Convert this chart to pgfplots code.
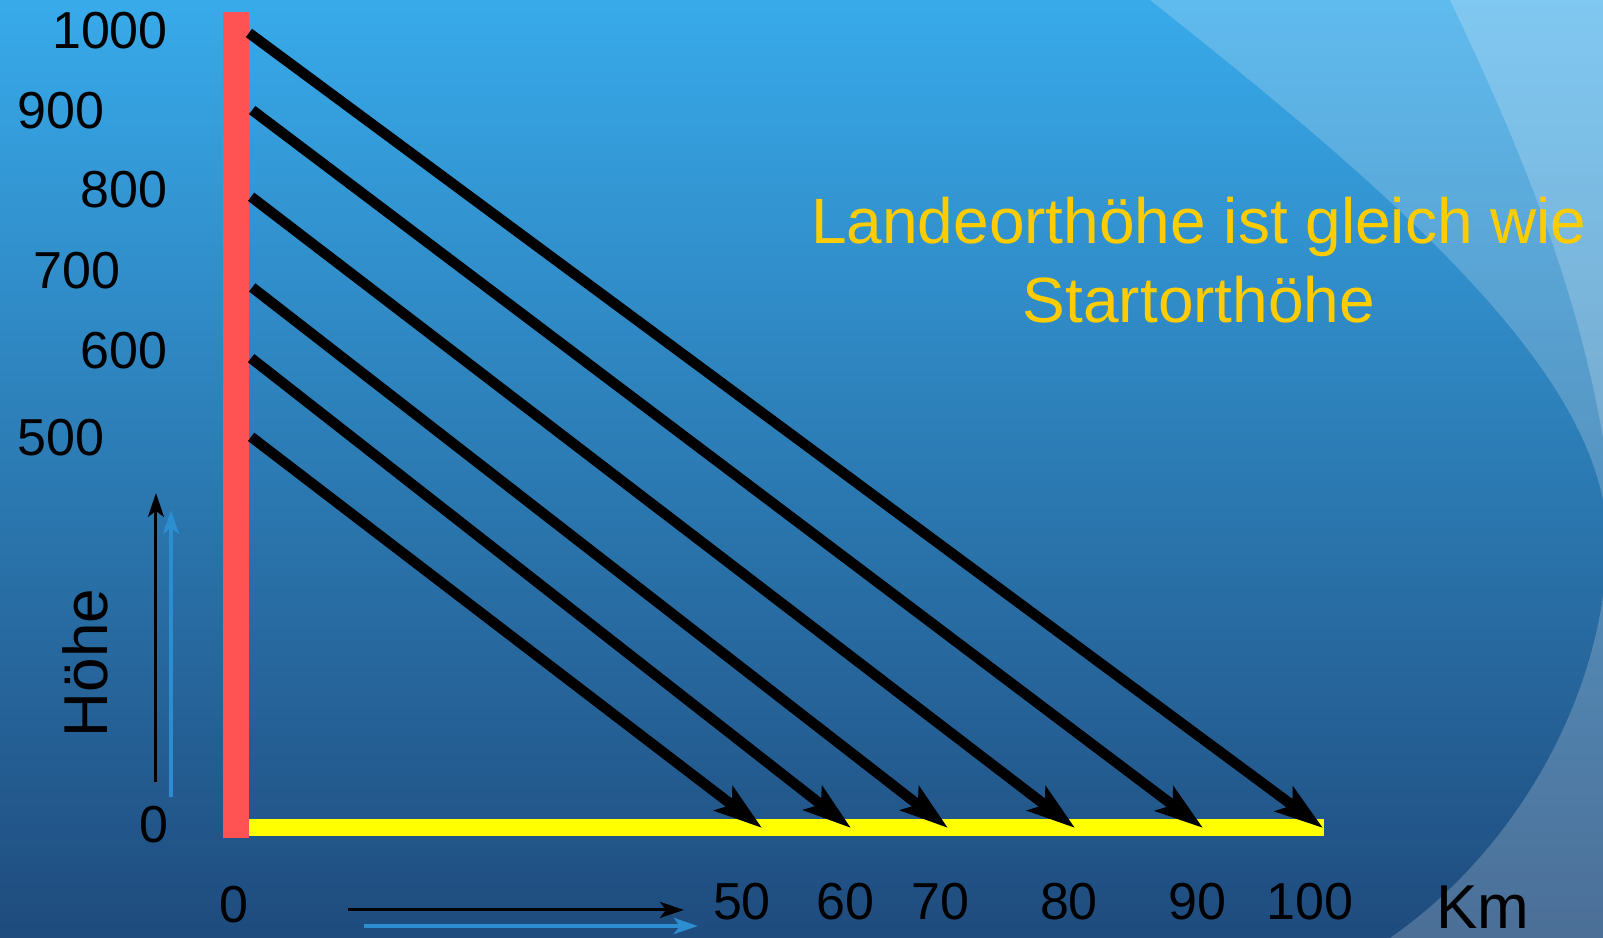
\documentclass[border=0pt]{standalone}
\usepackage{fontspec}
\setmainfont{Liberation Sans}
\usepackage{pgfplots}
\pgfplotsset{compat=1.18}
\usetikzlibrary{arrows.meta}

\definecolor{bgtop}{RGB}{56,170,234}
\definecolor{bgmid}{RGB}{44,124,184}
\definecolor{bgbot}{RGB}{31,75,125}
\definecolor{barred}{RGB}{255,82,82}
\definecolor{baryellow}{RGB}{255,255,0}
\definecolor{txtyellow}{RGB}{255,204,0}
\definecolor{arrowblue}{RGB}{44,141,208}

\newcommand\tl{\fontsize{26}{30}\selectfont}
\newcommand\bl{\fontsize{31}{36}\selectfont}
\newcommand\yl{\fontsize{32}{38}\selectfont}

\begin{document}
\begin{tikzpicture}[x=0.5pt,y=0.5pt]
  \useasboundingbox (0,0) rectangle (1603,938);
  % background
  \shade[top color=bgtop, middle color=bgmid, bottom color=bgbot] (0,0) rectangle (1603,938);
  \fill[white, opacity=0.2] (1150,938) .. controls (1400,740) and (1607,560) .. (1607,398)
    .. controls (1607,250) and (1520,90) .. (1390,0) -- (1700,0) -- (1700,938) -- cycle;
  \fill[white, opacity=0.2] (1450,938) .. controls (1530,770) and (1590,620) .. (1612,440)
    -- (1700,440) -- (1700,938) -- cycle;

  \begin{axis}[
    at={(0,0)}, anchor=south west,
    width=801.5pt, height=469pt, scale only axis,
    hide axis, clip=false,
    xmin=-23.18, xmax=126.07,
    ymin=-138.4, ymax=1041.5]

    % ground line (landing height = start height)
    \addplot[draw=baryellow, line width=8.5pt, line cap=butt] coordinates {(0,0) (100.1,0)};
    % height bar
    \addplot[draw=barred, line width=13pt, line cap=butt] coordinates {(-1.21,-12.6) (-1.21,1026.4)};

    % glide paths: start height -> distance
    \addplot[black, line width=5.2pt, -{Stealth[length=24pt,width=15pt,inset=5pt]}] coordinates {(0,1000) (100,0)};
    \addplot[black, line width=5.2pt, -{Stealth[length=24pt,width=15pt,inset=5pt]}] coordinates {(0.3,903) (88.83,0)};
    \addplot[black, line width=5.2pt, -{Stealth[length=24pt,width=15pt,inset=5pt]}] coordinates {(0.2,794) (76.91,0)};
    \addplot[black, line width=5.2pt, -{Stealth[length=24pt,width=15pt,inset=5pt]}] coordinates {(0.3,680) (65.08,0)};
    \addplot[black, line width=5.2pt, -{Stealth[length=24pt,width=15pt,inset=5pt]}] coordinates {(0.2,591) (56.05,0)};
    \addplot[black, line width=5.2pt, -{Stealth[length=24pt,width=15pt,inset=5pt]}] coordinates {(0.2,492) (47.77,0)};

    % direction arrows
    \addplot[black, line width=1.5pt, -{Stealth[length=12pt,width=8pt,inset=3pt]}] coordinates {(-8.66,57.9) (-8.66,421.4)};
    \addplot[arrowblue, line width=2pt, -{Stealth[length=12pt,width=8pt,inset=3pt]}] coordinates {(-7.26,39) (-7.26,400)};
    \addplot[black, line width=1.5pt, -{Stealth[length=12pt,width=8pt,inset=3pt]}] coordinates {(9.22,-103.1) (40.5,-103.1)};
    \addplot[arrowblue, line width=2pt, -{Stealth[length=12pt,width=8pt,inset=3pt]}] coordinates {(10.71,-123.3) (41.8,-123.3)};

    % height labels
    \node[font=\tl] at (axis cs:-12.94,1002.5) {1000};
    \node[font=\tl] at (axis cs:-17.5,901.9) {900};
    \node[font=\tl] at (axis cs:-11.64,802.5) {800};
    \node[font=\tl] at (axis cs:-16.0,700.6) {700};
    \node[font=\tl] at (axis cs:-11.64,600) {600};
    \node[font=\tl] at (axis cs:-17.5,490.6) {500};
    \node[font=\tl] at (axis cs:-8.85,3.8) {0};

    % distance labels
    \node[font=\tl] at (axis cs:-1.4,-96.9) {0};
    \node[font=\tl] at (axis cs:45.9,-93) {50};
    \node[font=\tl] at (axis cs:55.5,-93) {60};
    \node[font=\tl] at (axis cs:64.4,-93) {70};
    \node[font=\tl] at (axis cs:76.35,-93) {80};
    \node[font=\tl] at (axis cs:88.27,-93) {90};
    \node[font=\tl] at (axis cs:98.8,-93) {100};
    \node[font=\bl] at (axis cs:114.9,-99) {Km};
    \node[font=\bl, rotate=90] at (axis cs:-15.27,207.5) {Höhe};

    % note
    \node[font=\yl, text=txtyellow, anchor=base] at (axis cs:88.45,734.6) {Landeorthöhe ist gleich wie};
    \node[font=\yl, text=txtyellow, anchor=base] at (axis cs:88.45,635.2) {Startorthöhe};
  \end{axis}
\end{tikzpicture}
\end{document}
